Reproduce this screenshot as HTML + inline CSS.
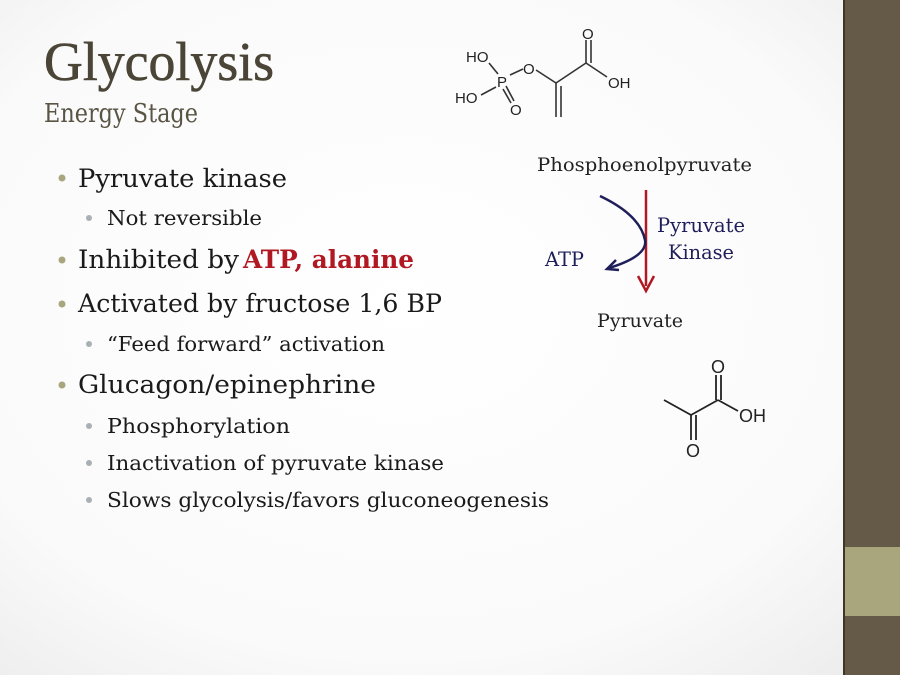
<!DOCTYPE html>
<html><head><meta charset="utf-8"><style>
html,body{margin:0;padding:0;width:900px;height:675px;overflow:hidden;background:#fff}
svg{display:block}
text{font-family:"DejaVu Serif","Liberation Serif",serif}
.title{font-family:"Liberation Serif",serif}
.chem text{font-family:"Liberation Sans",sans-serif;font-size:15px;fill:#222}
</style></head><body>
<svg width="900" height="675" viewBox="0 0 900 675" xmlns="http://www.w3.org/2000/svg">
<defs>
<radialGradient id="bg" cx="0.45" cy="0.45" r="0.75">
<stop offset="0" stop-color="#ffffff"/><stop offset="0.7" stop-color="#fafafa"/><stop offset="1" stop-color="#ececec"/>
</radialGradient>
</defs>
<rect width="900" height="675" fill="url(#bg)"/>
<rect x="843" y="0" width="57" height="675" fill="#655a48"/>
<rect x="843" y="0" width="2" height="675" fill="#3e3628"/>
<rect x="845" y="547" width="55" height="69" fill="#a9a67e"/>

<text class="title" x="44" y="80" font-size="55" fill="#4a4536" stroke="#4a4536" stroke-width="0.6" textLength="230" lengthAdjust="spacingAndGlyphs">Glycolysis</text>
<text x="44" y="122" font-size="26" fill="#5a5444" textLength="154" lengthAdjust="spacingAndGlyphs">Energy Stage</text>

<g fill="#1a1a1a">
<circle cx="62" cy="178" r="3.5" fill="#a9a67e"/>
<text x="78" y="187" font-size="25.5" textLength="209" lengthAdjust="spacingAndGlyphs">Pyruvate kinase</text>
<circle cx="89" cy="218" r="3" fill="#a8b0b4"/>
<text x="107" y="225" font-size="20.5" textLength="155" lengthAdjust="spacingAndGlyphs">Not reversible</text>
<circle cx="62" cy="260" r="3.5" fill="#a9a67e"/>
<text x="78" y="268" font-size="25.5" textLength="161" lengthAdjust="spacingAndGlyphs">Inhibited by</text>
<text x="243" y="268" font-size="25.5" font-weight="bold" fill="#b01822" textLength="171" lengthAdjust="spacingAndGlyphs">ATP, alanine</text>
<circle cx="62" cy="304" r="3.5" fill="#a9a67e"/>
<text x="78" y="312" font-size="25.5" textLength="364" lengthAdjust="spacingAndGlyphs">Activated by fructose 1,6 BP</text>
<circle cx="89" cy="344" r="3" fill="#a8b0b4"/>
<text x="107" y="351" font-size="20.5" textLength="278" lengthAdjust="spacingAndGlyphs">“Feed forward” activation</text>
<circle cx="62" cy="385" r="3.5" fill="#a9a67e"/>
<text x="78" y="393" font-size="25.5" textLength="298" lengthAdjust="spacingAndGlyphs">Glucagon/epinephrine</text>
<circle cx="89" cy="426" r="3" fill="#a8b0b4"/>
<text x="107" y="433" font-size="20.5" textLength="183" lengthAdjust="spacingAndGlyphs">Phosphorylation</text>
<circle cx="89" cy="463" r="3" fill="#a8b0b4"/>
<text x="107" y="470" font-size="20.5" textLength="337" lengthAdjust="spacingAndGlyphs">Inactivation of pyruvate kinase</text>
<circle cx="89" cy="500" r="3" fill="#a8b0b4"/>
<text x="107" y="507" font-size="20.5" textLength="442" lengthAdjust="spacingAndGlyphs">Slows glycolysis/favors gluconeogenesis</text>
</g>

<g stroke="#333" stroke-width="1.6" fill="none">
<line x1="489" y1="63" x2="498" y2="74"/>
<line x1="481" y1="95" x2="496" y2="87"/>
<line x1="506" y1="86" x2="514" y2="101"/>
<line x1="503" y1="89" x2="511" y2="103"/>
<line x1="510" y1="75" x2="523" y2="69"/>
<line x1="536" y1="70" x2="556" y2="83"/>
<line x1="556" y1="83" x2="556" y2="117"/>
<line x1="561" y1="86" x2="561" y2="117"/>
<line x1="556" y1="83" x2="586" y2="63"/>
<line x1="586" y1="63" x2="586" y2="40"/>
<line x1="591" y1="63" x2="591" y2="40"/>
<line x1="586" y1="63" x2="607" y2="77"/>
</g>
<g class="chem">
<text x="466" y="62">HO</text>
<text x="497" y="87">P</text>
<text x="455" y="103">HO</text>
<text x="510" y="115">O</text>
<text x="523" y="74">O</text>
<text x="582" y="39">O</text>
<text x="608" y="88">OH</text>
</g>

<text x="537" y="171" font-size="19" fill="#222" textLength="215" lengthAdjust="spacingAndGlyphs">Phosphoenolpyruvate</text>
<line x1="646" y1="190" x2="646" y2="286" stroke="#b01822" stroke-width="2.5"/>
<path d="M638 276 L646 291 L654 276" stroke="#b01822" stroke-width="2.5" fill="none"/>
<path d="M600 196 Q640 215 645 240 Q648 256 609 268" stroke="#1e1e5a" stroke-width="2.5" fill="none"/>
<path d="M616 260 L607 269 L619 270" stroke="#1e1e5a" stroke-width="2.5" fill="none"/>
<text x="657" y="232" font-size="20" fill="#1e1e5a" textLength="88" lengthAdjust="spacingAndGlyphs">Pyruvate</text>
<text x="668" y="259" font-size="20" fill="#1e1e5a" textLength="66" lengthAdjust="spacingAndGlyphs">Kinase</text>
<text x="545" y="266" font-size="20" fill="#1e1e5a" textLength="39" lengthAdjust="spacingAndGlyphs">ATP</text>
<text x="597" y="327" font-size="19" fill="#222" textLength="86" lengthAdjust="spacingAndGlyphs">Pyruvate</text>

<g stroke="#222" stroke-width="1.8" fill="none">
<line x1="664" y1="400" x2="691" y2="415"/>
<line x1="691" y1="415" x2="691" y2="440"/>
<line x1="696" y1="415" x2="696" y2="440"/>
<line x1="691" y1="415" x2="718" y2="400"/>
<line x1="716" y1="400" x2="716" y2="375"/>
<line x1="721" y1="400" x2="721" y2="375"/>
<line x1="718" y1="400" x2="738" y2="411"/>
</g>
<g class="chem">
<text x="711" y="373" style="font-size:18px">O</text>
<text x="739" y="422" style="font-size:18px">OH</text>
<text x="686" y="457" style="font-size:18px">O</text>
</g>
</svg>
</body></html>
